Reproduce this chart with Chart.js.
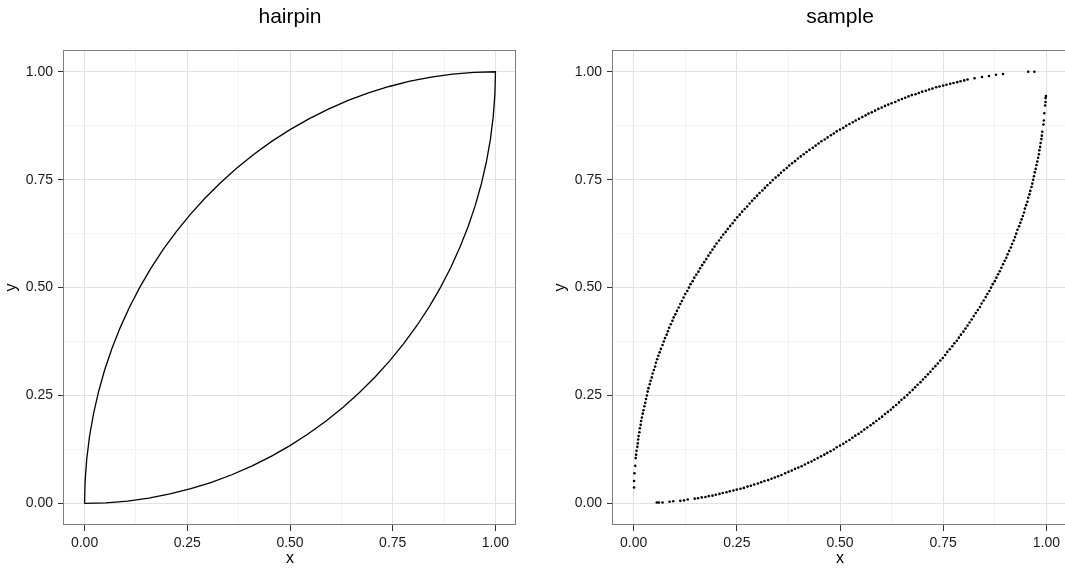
<!DOCTYPE html>
<html>
<head>
<meta charset="utf-8">
<script src="https://cdn.jsdelivr.net/npm/chart.js@4.4.1/dist/chart.umd.min.js"></script>
<style>
  html, body { margin: 0; padding: 0; background: #fff; overflow: hidden; width: 1065px; height: 569px; }
  canvas { position: absolute; top: 0; }
  #hairpinChart { left: 0; width: 532px; height: 569px; }
  #sampleChart { left: 549px; width: 534px; height: 569px; }
</style>
</head>
<body>
<canvas id="hairpinChart" width="532" height="569"></canvas>
<canvas id="sampleChart" width="534" height="569"></canvas>
<script>
'use strict';

let panelTitles = ['hairpin', 'sample'];
let majorTicks = [0, 0.25, 0.5, 0.75, 1];
let gridValues = [0, 0.125, 0.25, 0.375, 0.5, 0.625, 0.75, 0.875, 1];
let axisMin = -0.05;
let axisMax = 1.05;

// hairpin outline: up the top arc to (1,1), back down the lower arc
let hairpinX = [0, 0.0014, 0.0055, 0.0123, 0.0219, 0.0341, 0.0489, 0.0664, 0.0865, 0.1090,
  0.1340, 0.1613, 0.1910, 0.2229, 0.2569, 0.2929, 0.3309, 0.3707, 0.4122, 0.4554,
  0.5, 0.5460, 0.5933, 0.6416, 0.6910, 0.7412, 0.7921, 0.8436, 0.8955, 0.9477, 1,
  0.9986, 0.9945, 0.9877, 0.9781, 0.9659, 0.9511, 0.9336, 0.9135, 0.8910, 0.8660,
  0.8387, 0.8090, 0.7771, 0.7431, 0.7071, 0.6691, 0.6293, 0.5878, 0.5446, 0.5,
  0.4540, 0.4067, 0.3584, 0.3090, 0.2588, 0.2079, 0.1564, 0.1045, 0.0523, 0];
let hairpinY = [0, 0.0523, 0.1045, 0.1564, 0.2079, 0.2588, 0.3090, 0.3584, 0.4067, 0.4540,
  0.5, 0.5446, 0.5878, 0.6293, 0.6691, 0.7071, 0.7431, 0.7771, 0.8090, 0.8387,
  0.8660, 0.8910, 0.9135, 0.9336, 0.9511, 0.9659, 0.9781, 0.9877, 0.9945, 0.9986, 1,
  0.9477, 0.8955, 0.8436, 0.7921, 0.7412, 0.6910, 0.6416, 0.5933, 0.5460, 0.5,
  0.4554, 0.4122, 0.3707, 0.3309, 0.2929, 0.2569, 0.2229, 0.1910, 0.1613, 0.1340,
  0.1090, 0.0865, 0.0664, 0.0489, 0.0341, 0.0219, 0.0123, 0.0055, 0.0014, 0];

// sampled points, upper branch [x, y]
let sampleUpper = [
  [0.001,0.037],[0.001,0.052],[0.002,0.070],[0.004,0.087],[0.005,0.105],[0.006,0.113],[0.007,0.122],[0.009,0.131],
  [0.010,0.139],[0.011,0.148],[0.012,0.156],[0.014,0.165],[0.015,0.174],[0.017,0.182],[0.018,0.191],[0.020,0.199],
  [0.022,0.208],[0.024,0.216],[0.026,0.225],[0.028,0.233],[0.030,0.242],[0.032,0.250],[0.034,0.259],[0.036,0.267],
  [0.039,0.276],[0.041,0.284],[0.044,0.292],[0.046,0.301],[0.049,0.309],[0.052,0.317],[0.054,0.326],[0.057,0.334],
  [0.060,0.342],[0.063,0.350],[0.066,0.358],[0.070,0.367],[0.073,0.375],[0.076,0.383],[0.080,0.391],[0.083,0.399],
  [0.086,0.407],[0.090,0.415],[0.094,0.423],[0.097,0.431],[0.101,0.438],[0.105,0.446],[0.109,0.454],[0.113,0.462],
  [0.117,0.469],[0.121,0.477],[0.125,0.485],[0.130,0.492],[0.134,0.500],[0.138,0.508],[0.143,0.515],[0.147,0.523],
  [0.152,0.530],[0.157,0.537],[0.161,0.545],[0.166,0.552],[0.171,0.559],[0.176,0.566],[0.181,0.574],[0.186,0.581],
  [0.191,0.588],[0.196,0.595],[0.201,0.602],[0.207,0.609],[0.212,0.616],[0.217,0.623],[0.223,0.629],[0.228,0.636],
  [0.234,0.643],[0.240,0.649],[0.245,0.656],[0.251,0.663],[0.257,0.669],[0.263,0.676],[0.269,0.682],[0.275,0.688],
  [0.281,0.695],[0.287,0.701],[0.293,0.707],[0.299,0.713],[0.305,0.719],[0.312,0.725],[0.318,0.731],[0.324,0.737],
  [0.331,0.743],[0.337,0.749],[0.344,0.755],[0.351,0.760],[0.357,0.766],[0.364,0.772],[0.371,0.777],[0.377,0.783],
  [0.384,0.788],[0.391,0.793],[0.398,0.799],[0.405,0.804],[0.412,0.809],[0.419,0.814],[0.426,0.819],[0.434,0.824],
  [0.441,0.829],[0.448,0.834],[0.455,0.839],[0.463,0.843],[0.470,0.848],[0.478,0.853],[0.485,0.857],[0.492,0.862],
  [0.500,0.866],[0.508,0.870],[0.515,0.875],[0.523,0.879],[0.531,0.883],[0.538,0.887],[0.546,0.891],[0.554,0.895],
  [0.562,0.899],[0.569,0.903],[0.577,0.906],[0.585,0.910],[0.593,0.914],[0.601,0.917],[0.609,0.921],[0.617,0.924],
  [0.625,0.927],[0.634,0.930],[0.642,0.934],[0.650,0.937],[0.658,0.940],[0.666,0.943],[0.674,0.946],[0.683,0.948],
  [0.691,0.951],[0.699,0.954],[0.708,0.956],[0.716,0.959],[0.724,0.961],[0.733,0.964],[0.741,0.966],[0.750,0.968],
  [0.758,0.970],[0.767,0.972],[0.775,0.974],[0.784,0.976],[0.792,0.978],[0.801,0.980],[0.809,0.982],[0.826,0.985],
  [0.844,0.988],[0.861,0.990],[0.878,0.993],[0.895,0.995],[0.956,1.000],[0.971,1.000]
];

// sampled points, lower branch [x, y]
let sampleLower = [
  [0.056,0.002],[0.061,0.002],[0.070,0.002],[0.087,0.004],[0.096,0.005],[0.113,0.006],[0.122,0.007],[0.131,0.009],
  [0.148,0.011],[0.156,0.012],[0.165,0.014],[0.174,0.015],[0.182,0.017],[0.191,0.018],[0.199,0.020],[0.208,0.022],
  [0.216,0.024],[0.225,0.026],[0.233,0.028],[0.242,0.030],[0.250,0.032],[0.259,0.034],[0.267,0.036],[0.276,0.039],
  [0.284,0.041],[0.292,0.044],[0.301,0.046],[0.309,0.049],[0.317,0.052],[0.326,0.054],[0.334,0.057],[0.342,0.060],
  [0.350,0.063],[0.358,0.066],[0.367,0.070],[0.375,0.073],[0.383,0.076],[0.391,0.080],[0.399,0.083],[0.407,0.086],
  [0.415,0.090],[0.423,0.094],[0.431,0.097],[0.438,0.101],[0.446,0.105],[0.454,0.109],[0.462,0.113],[0.469,0.117],
  [0.477,0.121],[0.485,0.125],[0.492,0.130],[0.500,0.134],[0.508,0.138],[0.515,0.143],[0.523,0.147],[0.530,0.152],
  [0.537,0.157],[0.545,0.161],[0.552,0.166],[0.559,0.171],[0.566,0.176],[0.574,0.181],[0.581,0.186],[0.588,0.191],
  [0.595,0.196],[0.602,0.201],[0.609,0.207],[0.616,0.212],[0.623,0.217],[0.629,0.223],[0.636,0.228],[0.643,0.234],
  [0.649,0.240],[0.656,0.245],[0.663,0.251],[0.669,0.257],[0.676,0.263],[0.682,0.269],[0.688,0.275],[0.695,0.281],
  [0.701,0.287],[0.707,0.293],[0.713,0.299],[0.719,0.305],[0.725,0.312],[0.731,0.318],[0.737,0.324],[0.743,0.331],
  [0.749,0.337],[0.755,0.344],[0.760,0.351],[0.766,0.357],[0.772,0.364],[0.777,0.371],[0.783,0.377],[0.788,0.384],
  [0.793,0.391],[0.799,0.398],[0.804,0.405],[0.809,0.412],[0.814,0.419],[0.819,0.426],[0.824,0.434],[0.829,0.441],
  [0.834,0.448],[0.839,0.455],[0.843,0.463],[0.848,0.470],[0.853,0.478],[0.857,0.485],[0.862,0.492],[0.866,0.500],
  [0.870,0.508],[0.875,0.515],[0.879,0.523],[0.883,0.531],[0.887,0.538],[0.891,0.546],[0.895,0.554],[0.899,0.562],
  [0.903,0.569],[0.906,0.577],[0.910,0.585],[0.914,0.593],[0.917,0.601],[0.921,0.609],[0.924,0.617],[0.927,0.625],
  [0.930,0.634],[0.934,0.642],[0.937,0.650],[0.940,0.658],[0.943,0.666],[0.946,0.674],[0.948,0.683],[0.951,0.691],
  [0.954,0.699],[0.956,0.708],[0.959,0.716],[0.961,0.724],[0.964,0.733],[0.966,0.741],[0.968,0.750],[0.970,0.758],
  [0.972,0.767],[0.974,0.775],[0.976,0.784],[0.978,0.792],[0.980,0.801],[0.982,0.809],[0.983,0.818],[0.985,0.826],
  [0.986,0.835],[0.988,0.844],[0.989,0.852],[0.990,0.861],[0.993,0.878],[0.994,0.887],[0.995,0.904],[0.997,0.922],
  [0.998,0.930],[0.998,0.939],[0.999,0.944]
];

let fontFamily = '"Liberation Sans", Arial, Helvetica, sans-serif';
Chart.defaults.font.family = fontFamily;

function isMajor(v) {
  return majorTicks.includes(v);
}

// grey frame round the panel, like theme_bw
let panelBorder = {
  id: 'panelBorder',
  afterDatasetsDraw(chart) {
    let ctx = chart.ctx;
    let a = chart.chartArea;
    ctx.save();
    ctx.strokeStyle = '#7f7f7f';
    ctx.lineWidth = 1;
    ctx.strokeRect(Math.round(a.left) - 0.5, Math.round(a.top) + 0.5,
      Math.round(a.right) - Math.round(a.left), Math.round(a.bottom) - Math.round(a.top) - 1);
    ctx.restore();
  }
};

function axisOptions(label, pos) {
  return {
    type: 'linear',
    position: pos,
    min: axisMin,
    max: axisMax,
    afterBuildTicks: function(axis) {
      axis.ticks = gridValues.map(v => ({value: v}));
    },
    afterFit: function(axis) {
      if (pos === 'left') {
        axis.width = 64;
      } else {
        axis.height = 44;
      }
    },
    ticks: {
      autoSkip: false,
      maxRotation: 0,
      padding: pos === 'left' ? 5 : 4,
      color: '#1a1a1a',
      font: {size: 14},
      callback: v => isMajor(v) ? v.toFixed(2) : ''
    },
    grid: {
      lineWidth: 1,
      tickLength: 6,
      color: c => (c.tick && isMajor(c.tick.value)) ? '#e2e2e2' : '#f3f3f3',
      tickColor: c => (c.tick && isMajor(c.tick.value)) ? '#333333' : 'rgba(0,0,0,0)'
    },
    border: {display: false},
    title: {
      display: true,
      text: label,
      color: '#000',
      font: {size: 16},
      padding: {top: 2, bottom: 1}
    }
  };
}

function panelOptions(title) {
  return {
    responsive: false,
    animation: false,
    layout: {padding: {left: 0, right: 16, top: 0, bottom: 0}},
    plugins: {
      legend: {display: false},
      tooltip: {enabled: false},
      title: {
        display: true,
        fullSize: false,
        text: title,
        color: '#000',
        font: {size: 21, weight: 'normal'},
        padding: {top: 5, bottom: 20}
      }
    },
    scales: {
      x: axisOptions('x', 'bottom'),
      y: axisOptions('y', 'left')
    }
  };
}

let hairpinData = hairpinX.map((x, i) => ({x: x, y: hairpinY[i]}));
let sampleData = sampleUpper.concat(sampleLower).map(p => ({x: p[0], y: p[1]}));

new Chart(document.getElementById('hairpinChart'), {
  type: 'scatter',
  data: {
    datasets: [{
      data: hairpinData,
      showLine: true,
      borderColor: '#000',
      borderWidth: 1.3,
      pointRadius: 0,
      tension: 0,
      fill: false
    }]
  },
  options: panelOptions(panelTitles[0]),
  plugins: [panelBorder]
});

new Chart(document.getElementById('sampleChart'), {
  type: 'scatter',
  data: {
    datasets: [{
      data: sampleData,
      pointRadius: 1.3,
      pointBorderWidth: 0,
      pointBackgroundColor: '#000',
      borderColor: '#000'
    }]
  },
  options: panelOptions(panelTitles[1]),
  plugins: [panelBorder]
});
</script>
</body>
</html>
